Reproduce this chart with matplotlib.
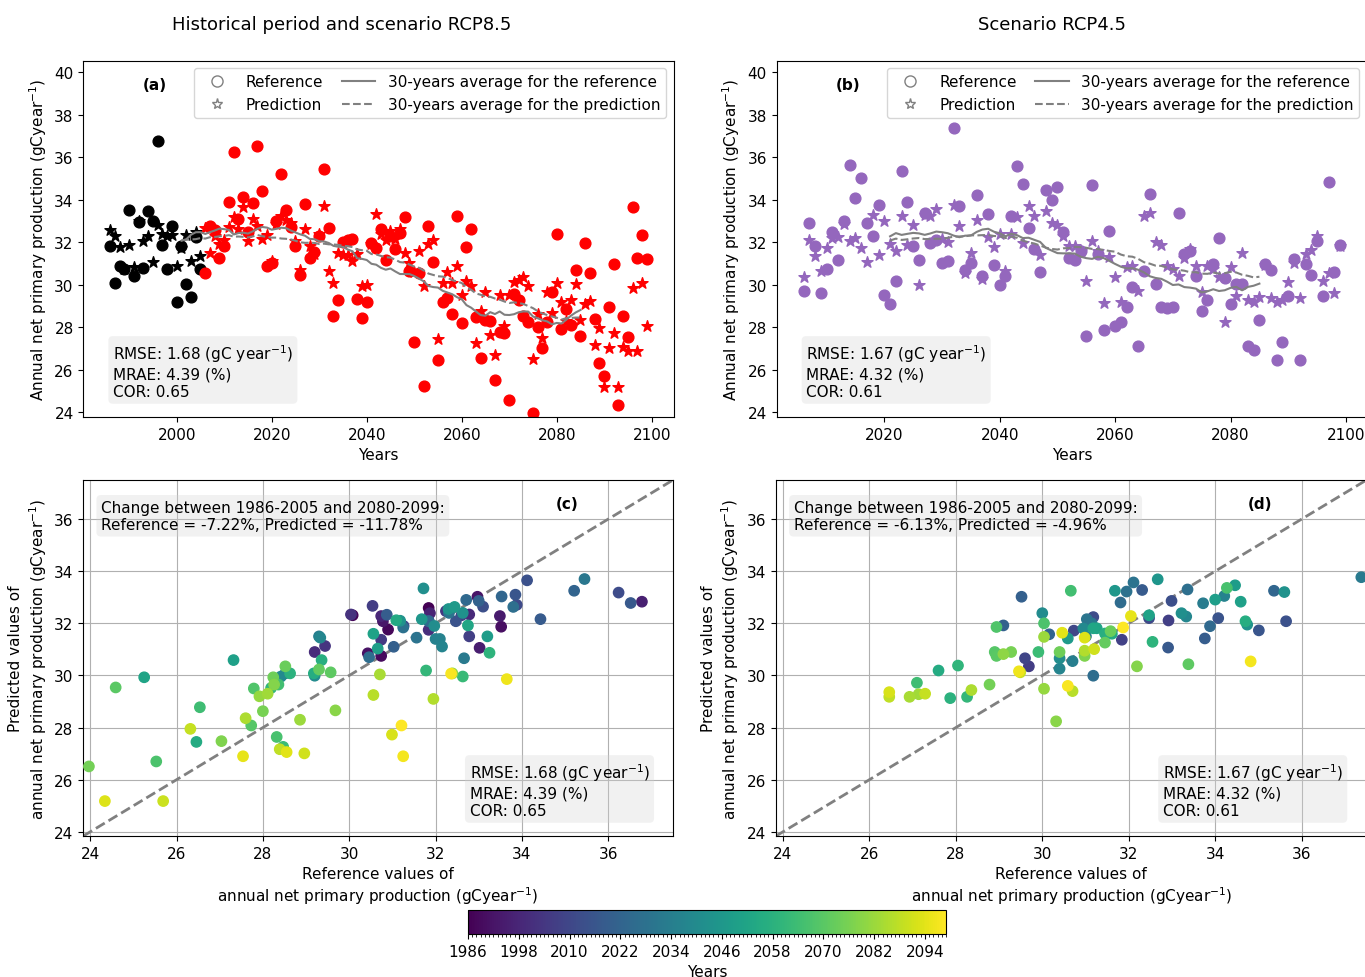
import numpy as np
import pandas as pd
import matplotlib
matplotlib.use("Agg")
import matplotlib.pyplot as plt
from matplotlib.lines import Line2D
from matplotlib.ticker import MultipleLocator

# Annual net primary production (gC/year)
hist_years = np.arange(1986, 2006)
scen_years = np.arange(2006, 2100)

hist_ref = [31.84, 30.08, 30.90, 30.74, 33.52, 30.43, 32.97, 30.78, 33.49, 33.02,
            36.78, 31.87, 30.74, 32.78, 29.20, 31.84, 30.04, 29.44, 32.24, 30.74]
hist_pred = [32.59, 32.31, 31.76, 30.75, 31.87, 30.85, 33.02, 32.08, 32.28, 31.06,
             32.83, 32.39, 32.28, 32.34, 30.90, 31.75, 32.34, 31.13, 32.47, 31.37]

rcp85_ref = [30.54, 32.78, 32.60, 31.26, 31.84, 33.88, 36.24, 33.10, 34.12, 32.47,
             33.85, 36.52, 34.43, 30.87, 31.03, 33.00, 35.21, 33.53, 32.71, 31.84,
             30.46, 33.80, 31.25, 31.56, 32.31, 35.45, 32.66, 28.52, 29.30, 32.00,
             32.10, 32.15, 29.33, 28.42, 29.20, 31.97, 31.72, 32.63, 31.18, 32.30,
             31.68, 32.44, 33.20, 30.66, 27.32, 30.56, 25.25, 32.75, 31.09, 26.46,
             29.18, 29.36, 28.63, 33.25, 28.19, 31.78, 32.63, 28.47, 26.54, 28.36,
             28.32, 25.53, 27.79, 27.73, 24.59, 29.57, 29.30, 28.52, 28.24, 23.97,
             28.00, 27.04, 28.26, 29.68, 32.39, 27.92, 28.86, 28.11, 30.71, 27.60,
             31.95, 30.56, 28.39, 26.32, 25.69, 28.96, 30.99, 24.34, 28.55, 27.54,
             33.65, 31.25, 32.36, 31.21]
rcp85_pred = [32.67, 31.50, 32.31, 31.90, 32.10, 32.71, 33.18, 32.64, 33.65, 32.08,
              33.10, 32.78, 32.16, 32.33, 31.10, 32.86, 33.25, 33.03, 32.90, 32.08,
              30.70, 32.63, 31.84, 31.45, 32.40, 33.70, 30.66, 30.08, 31.50, 31.40,
              31.40, 31.11, 31.45, 29.96, 29.99, 31.90, 33.34, 32.40, 32.10, 32.55,
              32.16, 32.63, 31.50, 31.03, 30.59, 31.60, 29.93, 31.92, 32.12, 27.45,
              30.08, 30.59, 30.08, 30.87, 29.52, 30.19, 29.96, 27.26, 28.78, 29.65,
              27.64, 26.70, 29.50, 28.08, 29.54, 30.12, 30.23, 30.35, 29.93, 26.51,
              28.63, 27.48, 29.65, 28.66, 30.08, 29.20, 28.30, 29.30, 30.04, 28.36,
              29.10, 29.25, 27.17, 27.95, 25.18, 27.01, 27.73, 25.18, 27.06, 26.90,
              29.86, 26.90, 30.07, 28.08]

rcp45_ref = [29.69, 32.92, 31.84, 29.60, 30.73, 32.47, 31.18, 32.99, 35.64, 34.07,
             35.01, 32.91, 32.31, 33.76, 29.52, 29.10, 30.16, 35.36, 33.88, 31.81,
             31.18, 33.36, 31.95, 32.11, 31.03, 31.14, 37.38, 33.72, 30.70, 31.01,
             34.21, 30.40, 33.33, 30.95, 30.00, 30.40, 33.22, 35.60, 34.74, 32.67,
             31.68, 30.59, 34.46, 34.00, 34.59, 32.47, 31.26, 31.18, 31.61, 27.60,
             34.70, 31.45, 27.87, 32.55, 28.05, 28.26, 28.94, 29.91, 27.10, 30.66,
             34.27, 30.04, 28.94, 28.90, 28.94, 33.38, 31.45, 31.58, 30.40, 28.78,
             29.28, 30.98, 32.19, 30.32, 29.10, 30.04, 30.04, 27.14, 26.93, 28.36,
             30.98, 30.70, 26.46, 27.29, 29.49, 31.20, 26.46, 30.98, 30.46, 32.05,
             29.46, 34.82, 30.59, 31.87]
rcp45_pred = [30.35, 32.11, 31.37, 30.66, 31.72, 32.20, 32.24, 32.86, 32.08, 32.20,
              31.73, 31.07, 33.28, 31.42, 33.02, 31.92, 31.58, 33.25, 31.89, 32.80,
              29.99, 33.30, 33.22, 33.57, 32.16, 32.00, 33.77, 32.77, 30.55, 31.50,
              33.05, 30.26, 32.26, 31.80, 32.39, 30.66, 32.39, 33.20, 31.95, 33.69,
              33.25, 31.42, 33.46, 32.91, 32.83, 32.31, 31.81, 31.81, 31.60, 30.19,
              32.08, 31.61, 29.13, 31.29, 30.38, 29.18, 30.82, 30.90, 29.72, 33.25,
              33.36, 32.00, 31.86, 30.90, 30.75, 30.43, 31.26, 31.70, 30.90, 29.65,
              30.90, 30.75, 30.35, 28.24, 30.82, 29.49, 31.48, 29.28, 29.18, 29.44,
              30.95, 29.40, 29.18, 29.30, 30.12, 31.01, 29.36, 31.45, 31.64, 32.28,
              30.16, 30.54, 29.60, 31.84]

stats_85 = "RMSE: 1.68 (gC year$^{-1}$)\nMRAE: 4.39 (%)\nCOR: 0.65"
stats_45 = "RMSE: 1.67 (gC year$^{-1}$)\nMRAE: 4.32 (%)\nCOR: 0.61"
change_85 = "Change between 1986-2005 and 2080-2099:\nReference = -7.22%, Predicted = -11.78%"
change_45 = "Change between 1986-2005 and 2080-2099:\nReference = -6.13%, Predicted = -4.96%"

W, H = 1365, 978
fig = plt.figure(figsize=(W / 100, H / 100), dpi=100)


def box(left, top, right, bottom):
    return [left / W, 1 - bottom / H, (right - left) / W, (bottom - top) / H]


ax_a = fig.add_axes(box(83.4, 61.7, 673.8, 418))
ax_b = fig.add_axes(box(776.7, 61.7, 1367, 418))
ax_c = fig.add_axes(box(83.3, 481, 673, 837))
ax_d = fig.add_axes(box(776, 481, 1366.5, 837))
cax = fig.add_axes(box(468, 911, 946, 935))

ylab_top = "Annual net primary production (gCyear$^{-1}$)"
stat_box = dict(boxstyle="round", facecolor="lightgray", alpha=0.3, edgecolor="none")

legend_handles = [
    Line2D([], [], marker="o", ls="none", mec="gray", mfc="none", ms=8, label="Reference"),
    Line2D([], [], marker="*", ls="none", mec="gray", mfc="none", ms=8, label="Prediction"),
    Line2D([], [], color="gray", lw=1.5, label="30-years average for the reference"),
    Line2D([], [], color="gray", lw=1.5, ls="--", label="30-years average for the prediction"),
]


def top_panel(ax, groups, tag, stats):
    years = np.concatenate([g[0] for g in groups])
    ref = np.concatenate([g[1] for g in groups])
    pred = np.concatenate([g[2] for g in groups])
    for yrs, r, p, col in groups:
        ax.scatter(yrs, r, s=60, color=col, marker="o", zorder=2)
        ax.scatter(yrs, p, s=70, color=col, marker="*", zorder=3)
    ref_avg = pd.Series(ref).rolling(30, center=True).mean()
    pred_avg = pd.Series(pred).rolling(30, center=True).mean()
    ax.plot(years, ref_avg, color="gray", lw=1.5, zorder=4)
    ax.plot(years, pred_avg, color="gray", lw=1.5, ls="--", zorder=4)
    ax.set_ylim(23.78, 40.55)
    ax.set_yticks(np.arange(24, 41, 2))
    ax.set_xticks(np.arange(2000, 2101, 20))
    ax.set_xlim(years.min() - 0.05 * (years.max() - years.min()),
                years.max() + 0.05 * (years.max() - years.min()))
    ax.set_xlabel("Years", fontsize=11)
    ax.set_ylabel(ylab_top, fontsize=11)
    ax.legend(handles=legend_handles, ncol=2, loc="upper right", fontsize=11,
              handlelength=2.2, columnspacing=1.2)
    ax.text(0.121, 0.932, tag, transform=ax.transAxes, fontweight="bold",
            fontsize=11, ha="center", va="center")
    ax.text(0.05, 0.05, stats, transform=ax.transAxes, fontsize=11,
            ha="left", va="bottom", bbox=stat_box)
    ax.tick_params(labelsize=11)


def bottom_panel(ax, years, ref, pred, tag, stats, change):
    lims = (23.84, 37.5)
    ax.grid(True, zorder=0)
    sc = ax.scatter(ref, pred, c=years, cmap="viridis", vmin=1986, vmax=2099,
                    s=55, zorder=3)
    ax.plot(lims, lims, ls="--", color="gray", lw=2, zorder=2)
    ax.set_xlim(lims)
    ax.set_ylim(lims)
    ax.set_xticks(np.arange(24, 37, 2))
    ax.set_yticks(np.arange(24, 37, 2))
    ax.set_axisbelow(True)
    ax.set_xlabel("Reference values of\nannual net primary production (gCyear$^{-1}$)",
                  fontsize=11)
    ax.set_ylabel("Predicted values of\nannual net primary production (gCyear$^{-1}$)",
                  fontsize=11)
    ax.text(0.82, 0.935, tag, transform=ax.transAxes, fontweight="bold",
            fontsize=11, ha="center", va="center")
    ax.text(0.03, 0.945, change, transform=ax.transAxes, fontsize=11,
            ha="left", va="top", bbox=stat_box)
    ax.text(0.655, 0.05, stats, transform=ax.transAxes, fontsize=11,
            ha="left", va="bottom", bbox=stat_box)
    ax.tick_params(labelsize=11)
    return sc


top_panel(ax_a, [(hist_years, hist_ref, hist_pred, "black"),
                 (scen_years, rcp85_ref, rcp85_pred, "red")], "(a)", stats_85)
top_panel(ax_b, [(scen_years, rcp45_ref, rcp45_pred, "tab:purple")], "(b)", stats_45)

all_years = np.concatenate([hist_years, scen_years])
sc = bottom_panel(ax_c, all_years, hist_ref + rcp85_ref, hist_pred + rcp85_pred,
                  "(c)", stats_85, change_85)
bottom_panel(ax_d, scen_years, rcp45_ref, rcp45_pred, "(d)", stats_45, change_45)

cbar = fig.colorbar(sc, cax=cax, orientation="horizontal")
cbar.set_ticks(np.arange(1986, 2100, 12))
cbar.ax.xaxis.set_minor_locator(MultipleLocator(1))
cbar.ax.tick_params(labelsize=11)
cbar.set_label("Years", fontsize=11)

fig.text(342 / W, 1 - 25 / H, "Historical period and scenario RCP8.5",
         ha="center", va="center", fontsize=13)
fig.text(1052 / W, 1 - 25 / H, "Scenario RCP4.5", ha="center", va="center", fontsize=13)

fig.savefig("out.png", dpi=100)
